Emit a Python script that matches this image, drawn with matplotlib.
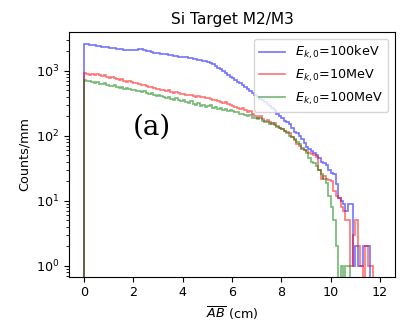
import numpy as np
import matplotlib
matplotlib.use("Agg")
import matplotlib.pyplot as plt
from matplotlib.lines import Line2D

# bin edges in cm (1 mm bins)
edges = np.round(np.arange(0, 12.05, 0.1), 2)

# counts per mm, one value per 0.1 cm bin
counts_100keV = [
    2600, 2550, 2520, 2480, 2450, 2400, 2380, 2350, 2300, 2280,
    2250, 2230, 2200, 2150, 2180, 2120, 2100, 2080, 2050, 2100,
    2080, 2100, 2140, 2120, 2050, 2000, 1980, 1950, 1900, 1880,
    1850, 1830, 1800, 1780, 1750, 1740, 1700, 1680, 1650, 1640,
    1620, 1600, 1580, 1560, 1540, 1500, 1480, 1450, 1420, 1400,
    1350, 1300, 1250, 1180, 1100, 1050, 980, 920, 850, 800,
    760, 720, 680, 640, 600, 560, 520, 490, 460, 430,
    400, 370, 350, 330, 310, 290, 270, 250, 220, 200,
    185, 170, 160, 150, 130, 115, 110, 100, 90, 78,
    68, 62, 58, 55, 50, 45, 40, 38, 35, 30,
    27, 26, 18, 11, 10, 9, 7, 9, 9, 1,
    2, 1, 1, 2, 2, 2, 0, 0, 0, 0,
]
counts_10MeV = [
    930, 900, 870, 880, 850, 900, 860, 820, 850, 800,
    780, 800, 760, 740, 720, 750, 700, 680, 700, 660,
    650, 640, 620, 600, 610, 580, 560, 570, 540, 530,
    520, 510, 500, 490, 500, 470, 460, 470, 450, 440,
    440, 430, 420, 430, 410, 400, 410, 390, 400, 380,
    380, 370, 360, 350, 340, 330, 320, 330, 310, 300,
    290, 280, 270, 260, 270, 250, 230, 240, 220, 200,
    190, 200, 180, 170, 175, 160, 150, 155, 140, 130,
    125, 120, 115, 110, 95, 85, 75, 70, 62, 60,
    58, 55, 52, 50, 48, 30, 22, 24, 22, 21,
    20, 14, 12, 11, 8, 7, 5, 5, 1, 3,
    5, 2, 1, 0, 2, 1, 1, 0, 0, 0,
]
counts_100MeV = [
    720, 700, 690, 680, 650, 660, 630, 620, 640, 600,
    590, 580, 600, 560, 550, 560, 530, 540, 520, 510,
    500, 490, 480, 470, 480, 450, 440, 450, 430, 410,
    420, 410, 400, 380, 390, 370, 360, 380, 350, 340,
    360, 330, 320, 340, 310, 300, 320, 290, 300, 280,
    290, 300, 270, 280, 260, 270, 250, 260, 240, 245,
    240, 230, 235, 220, 215, 210, 200, 205, 190, 185,
    180, 185, 170, 165, 160, 150, 155, 145, 135, 130,
    125, 120, 110, 100, 95, 90, 80, 75, 65, 60,
    55, 45, 40, 38, 34, 30, 26, 22, 19, 12,
    8, 5, 2, 0, 1, 0, 1, 1, 0, 0,
    0, 0, 0, 0, 0, 0, 0, 0, 0, 0,
]
labels = [r"$E_{k,0}$=100keV", r"$E_{k,0}$=10MeV", r"$E_{k,0}$=100MeV"]
colors = ["b", "r", "g"]

plt.rcParams["font.size"] = 9.2
fig = plt.figure(figsize=(4.07, 3.26), dpi=100)
ax = fig.add_axes([0.170, 0.151, 0.800, 0.750])

centers = edges[:-1] + 0.05
handles = []
for vals, lab, col in zip([counts_100keV, counts_10MeV, counts_100MeV], labels, colors):
    ax.hist(centers, bins=edges, weights=vals, histtype="step",
            color=col, alpha=0.55, linewidth=1.2, log=True)
    handles.append(Line2D([], [], color=col, alpha=0.55, linewidth=1.2, label=lab))

ax.set_xlim(-0.6, 12.6)
ax.set_ylim(0.68, 3900)
ax.set_xticks([0, 2, 4, 6, 8, 10, 12])
ax.set_title("Si Target M2/M3")
ax.set_xlabel(r"$\overline{AB}$ (cm)")
ax.set_ylabel("Counts/mm")
ax.text(2.75, 135, "(a)", fontsize=20, family="DejaVu Serif",
        ha="center", va="center")
ax.legend(handles=handles, loc="upper right")

fig.savefig("out.png", dpi=100)
